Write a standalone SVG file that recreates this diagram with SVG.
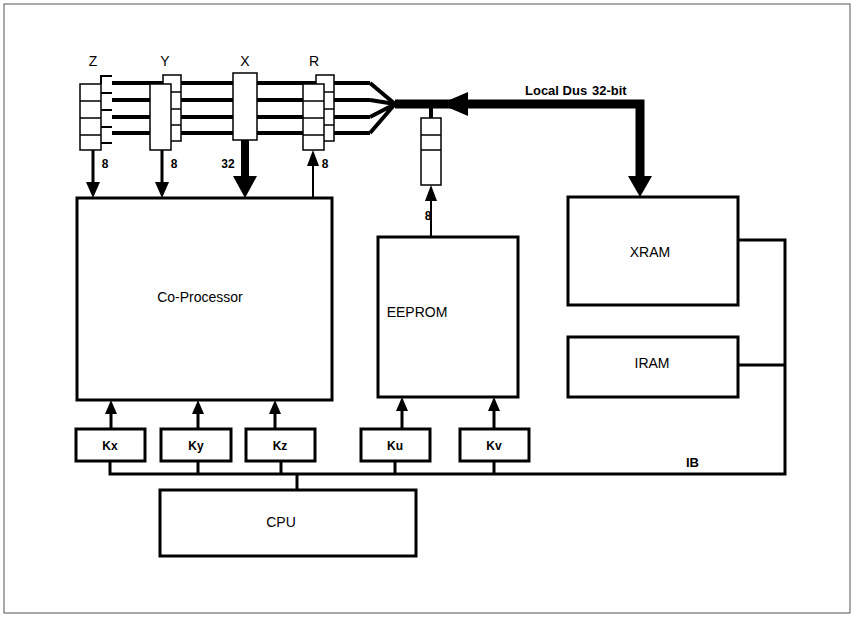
<svg xmlns="http://www.w3.org/2000/svg" width="854" height="618" viewBox="0 0 854 618">
<style>
.box{fill:#fff;stroke:#000;stroke-width:3}
.reg{fill:#fff;stroke:#000;stroke-width:1.5}
.ln{fill:none;stroke:#000;stroke-width:3}
.thin{fill:none;stroke:#000;stroke-width:2}
.bus{fill:none;stroke:#000;stroke-width:4}
text{font-family:"Liberation Sans",Arial,sans-serif;font-size:13px;font-weight:bold;fill:#000}
.lbl{font-weight:normal;font-size:14px;text-anchor:middle}
.sm{font-size:12px;text-anchor:middle}
</style>
<rect x="4" y="4" width="846" height="609" fill="#fff" stroke="#555" stroke-width="1"/>
<g id="connectors">
<path class="bus" d="M112,83H370M112,100H370M112,117H370M112,133H370"/>
<path class="bus" d="M370,83L395,104M370,100L395,104M370,117L395,104M370,133L395,104"/>
<path d="M395,104H640V178" fill="none" stroke="#000" stroke-width="9"/>
<path d="M440,104L468,92V116z"/>
<path d="M628,176H652L640,197z"/>
<path class="bus" d="M431,104V118"/>
<path class="ln" d="M93,150V186M162,150V186"/>
<path d="M86,182H100L93,198zM155,182H169L162,198z"/>
<path d="M245,140V178" stroke="#000" stroke-width="8"/>
<path d="M233,176H257L245,198z"/>
<path class="thin" d="M313,198V160"/><path d="M307,166H319L313,150z"/>
<path class="thin" d="M431,237V195"/><path d="M425,201H437L431,185z"/>
<path class="ln" d="M111,429V410M198,429V410M275,429V410M402,429V407M494,429V407"/>
<path d="M105,414H117L111,400zM192,414H204L198,400zM269,414H281L275,400zM396,411H408L402,397zM488,411H500L494,397z"/>
<path class="ln" d="M110,461V474H785V240H738M738,365H785M198,461V474M281,461V474M395,461V474M494,461V474M297,474V490"/>
<path class="thin" d="M101,93H112M101,110H112M101,127H112M101,143H112M101,84V76H112"/>
</g>
<g id="regZ"><rect class="reg" x="80" y="84" width="21" height="66"/><path class="reg" d="M80,101H101M80,118H101M80,135H101"/></g>
<g id="regY"><rect class="reg" x="163" y="75" width="18" height="66"/><path class="reg" d="M163,92H181M163,109H181M163,125H181"/><rect class="reg" x="150" y="84" width="21" height="66"/></g>
<g id="regX"><rect class="reg" x="233" y="73" width="24" height="67"/></g>
<g id="regR"><rect class="reg" x="316" y="75" width="18" height="66"/><path class="reg" d="M316,92H334M316,109H334M316,125H334"/><rect class="reg" x="303" y="84" width="21" height="66"/><path class="reg" d="M303,101H324M303,118H324M303,135H324"/></g>
<g id="regE"><rect class="reg" x="421" y="118" width="20" height="67"/><path class="reg" d="M421,135H441M421,150H441"/></g>
<g id="reglabels">
<text class="lbl" x="93" y="66">Z</text><text class="lbl" x="165" y="66">Y</text><text class="lbl" x="245" y="66">X</text><text class="lbl" x="314" y="66">R</text>
<text class="sm" x="105" y="168">8</text><text class="sm" x="174" y="168">8</text><text class="sm" x="228" y="168">32</text><text class="sm" x="325" y="168">8</text><text class="sm" x="428" y="220">8</text>
<text x="525" y="95" font-size="12">Local Dus</text><text x="592" y="95" font-size="12">32-bit</text>
<text x="686" y="467" font-size="13">IB</text>
</g>
<g id="coproc"><rect class="box" x="77" y="198" width="255" height="202"/><text class="lbl" x="200" y="302">Co-Processor</text></g>
<g id="eeprom"><rect class="box" x="378" y="237" width="140" height="160"/><text class="lbl" x="417" y="317">EEPROM</text></g>
<g id="xram"><rect class="box" x="568" y="197" width="170" height="108"/><text class="lbl" x="650" y="257">XRAM</text></g>
<g id="iram"><rect class="box" x="568" y="337" width="170" height="60"/><text class="lbl" x="652" y="368">IRAM</text></g>
<g id="cpu"><rect class="box" x="160" y="490" width="256" height="66"/><text class="lbl" x="281" y="527">CPU</text></g>
<g id="kx"><rect class="box" x="76" y="429" width="69" height="32"/><text class="sm" x="110" y="450">Kx</text></g>
<g id="ky"><rect class="box" x="161" y="429" width="70" height="32"/><text class="sm" x="196" y="450">Ky</text></g>
<g id="kz"><rect class="box" x="246" y="429" width="69" height="32"/><text class="sm" x="280" y="450">Kz</text></g>
<g id="ku"><rect class="box" x="361" y="429" width="69" height="32"/><text class="sm" x="395" y="450">Ku</text></g>
<g id="kv"><rect class="box" x="460" y="429" width="69" height="32"/><text class="sm" x="494" y="450">Kv</text></g>
</svg>
